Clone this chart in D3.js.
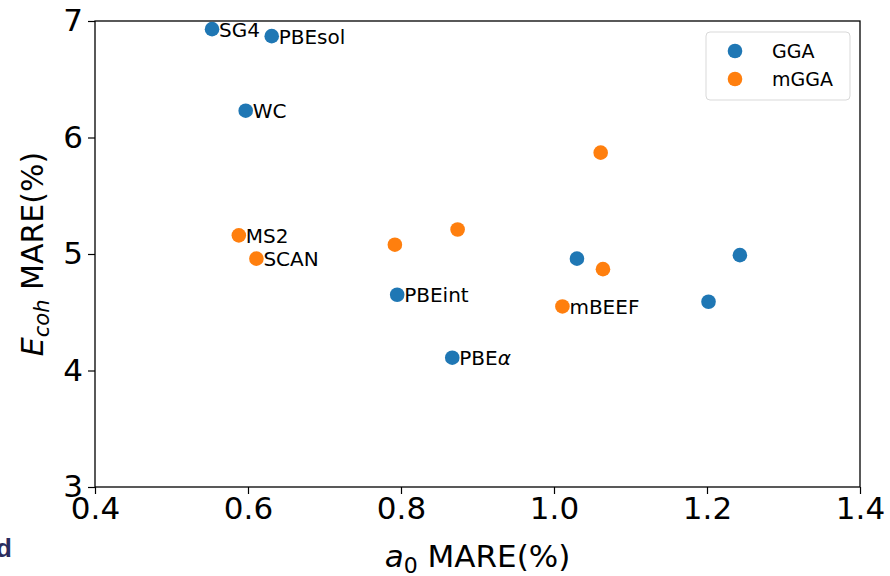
<!DOCTYPE html>
<html>
<head>
<meta charset="utf-8">
<script src="https://cdn.jsdelivr.net/npm/d3@7/dist/d3.min.js"></script>
<style>
  html, body { margin: 0; padding: 0; background: #fff; }
  svg { display: block; font-family: "DejaVu Sans", sans-serif; }
</style>
</head>
<body>
<svg id="chart" width="890" height="576"></svg>
<script>
// Lattice-constant error vs cohesive-energy error for each functional
const ggaNames = ["SG4", "PBEsol", "WC", "PBEint", "PBEα", "", "", ""];
const ggaA0    = [0.553, 0.631, 0.597, 0.795, 0.867, 1.030, 1.243, 1.202];
const ggaEcoh  = [6.93, 6.87, 6.23, 4.65, 4.11, 4.96, 4.99, 4.59];

const mggaNames = ["MS2", "SCAN", "", "", "", "", "mBEEF"];
const mggaA0    = [0.588, 0.611, 0.792, 0.874, 1.061, 1.064, 1.011];
const mggaEcoh  = [5.16, 4.96, 5.08, 5.21, 5.87, 4.87, 4.55];

const xTicks = [0.4, 0.6, 0.8, 1.0, 1.2, 1.4];
const yTicks = [3, 4, 5, 6, 7];

const seriesNames = ["GGA", "mGGA"];
const colors = ["#1f77b4", "#ff7f0e"];

const svg = d3.select("#chart");
const x = d3.scaleLinear().domain([0.4, 1.4]).range([95, 860]);
const y = d3.scaleLinear().domain([3, 7]).range([487, 21]);

// axes
const xAxis = d3.axisBottom(x).tickValues(xTicks).tickFormat(d3.format(".1f")).tickSize(7).tickPadding(3);
const yAxis = d3.axisLeft(y).tickValues(yTicks).tickFormat(d3.format("d")).tickSize(7).tickPadding(5);

const gx = svg.append("g").attr("transform", `translate(0,${y(3)})`).call(xAxis);
const gy = svg.append("g").attr("transform", `translate(${x(0.4)},0)`).call(yAxis);
[gx, gy].forEach(g => {
  g.select(".domain").remove();
  g.selectAll("line").attr("stroke", "#000").attr("stroke-width", 1.2);
  g.selectAll("text").attr("font-size", 31).attr("fill", "#000").attr("font-family", "DejaVu Sans");
});

// frame
svg.append("rect")
  .attr("x", x(0.4)).attr("y", y(7))
  .attr("width", x(1.4) - x(0.4)).attr("height", y(3) - y(7))
  .attr("fill", "none").attr("stroke", "#000").attr("stroke-width", 1.3);

// axis titles
const xt = svg.append("text").attr("x", x(0.9)).attr("y", 567)
  .attr("text-anchor", "middle").attr("font-size", 31).attr("fill", "#000");
xt.append("tspan").attr("font-style", "italic").text("a");
xt.append("tspan").attr("font-size", 22).attr("dy", 6).text("0");
xt.append("tspan").attr("dy", -6).text(" MARE(%)");

const yt = svg.append("text")
  .attr("transform", `translate(43,${y(5)}) rotate(-90)`)
  .attr("text-anchor", "middle").attr("font-size", 30).attr("fill", "#000");
yt.append("tspan").attr("font-style", "italic").text("E");
yt.append("tspan").attr("font-style", "italic").attr("font-size", 21).attr("dy", 6).text("coh");
yt.append("tspan").attr("dy", -6).text(" MARE(%)");

// points and labels
function drawSeries(a0, ecoh, names, color) {
  const data = a0.map((v, i) => ({ a: v, e: ecoh[i], name: names[i] }));
  svg.append("g").selectAll("circle").data(data).join("circle")
    .attr("cx", d => x(d.a)).attr("cy", d => y(d.e)).attr("r", 7.3)
    .attr("fill", color);
  svg.append("g").selectAll("text").data(data.filter(d => d.name)).join("text")
    .attr("x", d => x(d.a) + 7).attr("y", d => y(d.e) + 7.5)
    .attr("font-size", 20).attr("fill", "#000")
    .each(function (d) {
      const t = d3.select(this);
      if (d.name.endsWith("α")) {
        t.append("tspan").text(d.name.slice(0, -1));
        t.append("tspan").attr("font-style", "italic").text("α");
      } else {
        t.text(d.name);
      }
    });
}
drawSeries(ggaA0, ggaEcoh, ggaNames, colors[0]);
drawSeries(mggaA0, mggaEcoh, mggaNames, colors[1]);

// legend
const lg = svg.append("g");
lg.append("rect").attr("x", 706).attr("y", 32).attr("width", 144).attr("height", 68)
  .attr("rx", 4).attr("fill", "#fff").attr("stroke", "#d9d9d9").attr("stroke-width", 1);
seriesNames.forEach((n, i) => {
  lg.append("circle").attr("cx", 735).attr("cy", 51 + i * 28).attr("r", 7.3).attr("fill", colors[i]);
  lg.append("text").attr("x", 772).attr("y", 58 + i * 28).attr("font-size", 19).attr("fill", "#000").text(n);
});

// panel letter
svg.append("text").attr("x", -4).attr("y", 557).attr("font-size", 26).attr("font-weight", "bold")
  .attr("fill", "#2b2d5e").attr("font-family", "Liberation Sans, Arial, sans-serif").text("d");
</script>
</body>
</html>
